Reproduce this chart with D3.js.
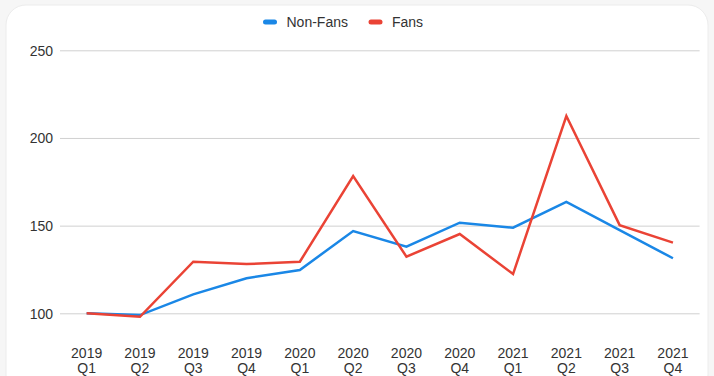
<!DOCTYPE html>
<html><head><meta charset="utf-8">
<script src="https://cdn.jsdelivr.net/npm/d3@7"></script>
<style>
html,body{margin:0;padding:0;background:#f6f6f6;}
svg{display:block;font-family:"Liberation Sans",Arial,Helvetica,sans-serif;}
</style></head>
<body><svg id="c" width="714" height="376"></svg>
<script>
const categories = ["2019 Q1","2019 Q2","2019 Q3","2019 Q4","2020 Q1","2020 Q2","2020 Q3","2020 Q4","2021 Q1","2021 Q2","2021 Q3","2021 Q4"];
const nonFans = [100, 99, 110.8, 120, 124.7, 146.9, 138, 151.7, 148.8, 163.6, 147.4, 131.4];
const fans = [100, 98, 129.4, 128.1, 129.4, 178.3, 132.3, 145.2, 122.4, 212.5, 150.3, 140.3];
const yTicks = [100, 150, 200, 250];
const seriesNames = ["Non-Fans", "Fans"];
const colors = ["#1a87e6", "#ea4335"];

const svg = d3.select("#c");
// card
svg.append("rect").attr("x",6).attr("y",5).attr("width",702).attr("height",390)
  .attr("rx",20).attr("fill","#ffffff").attr("stroke","#ececec").attr("stroke-width",1);

const x = d3.scaleBand().domain(categories).range([60, 699.6]);
const y = d3.scaleLinear().domain([100, 250]).range([313.3, 50.3]);

// gridlines
const yAxis = d3.axisLeft(y).tickValues(yTicks).tickSize(-(699.6-60)).tickPadding(7);
const gy = svg.append("g").attr("transform","translate(60,0)").call(yAxis);
gy.select(".domain").remove();
gy.selectAll(".tick line").attr("stroke","#d0d0d0").attr("stroke-width",1);
gy.selectAll(".tick text").attr("fill","#333").attr("font-size",14).attr("x",-7).attr("dy","0.35em");

// x axis labels
const xAxis = d3.axisBottom(x).tickSize(0).tickPadding(0);
const gx = svg.append("g").attr("transform","translate(0,345)").call(xAxis);
gx.select(".domain").remove();
gx.selectAll(".tick text").each(function(d){
  const parts = d.split(" ");
  const t = d3.select(this).text(null).attr("fill","#333").attr("font-size",14).attr("y",0).attr("dy",null);
  t.append("tspan").attr("x",0).attr("y",13).text(parts[0]);
  t.append("tspan").attr("x",0).attr("y",28).text(parts[1]);
});

const line = d3.line().x((d,i)=>x(categories[i]) + x.bandwidth()/2).y(d=>y(d));
[nonFans, fans].forEach((s,i)=>{
  svg.append("path").datum(s).attr("d",line).attr("fill","none")
    .attr("stroke",colors[i]).attr("stroke-width",2.5).attr("stroke-linejoin","miter");
});

// legend
const lg = svg.append("g");
const legendX = [263, 368.5];
seriesNames.forEach((n,i)=>{
  lg.append("rect").attr("x",legendX[i]).attr("y",19.5).attr("width",14).attr("height",5).attr("rx",2.5).attr("fill",colors[i]);
  lg.append("text").attr("x",legendX[i]+23.5).attr("y",27).attr("font-size",14).attr("fill","#333").text(n);
});
</script></body></html>
